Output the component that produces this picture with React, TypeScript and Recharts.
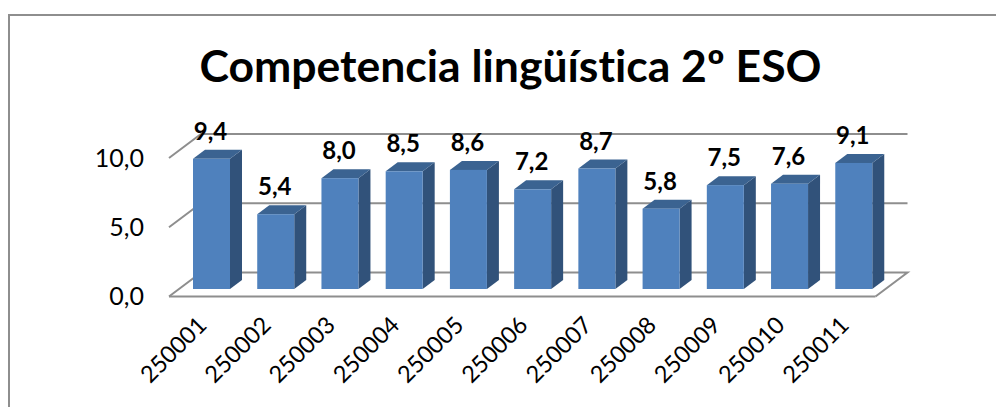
import { BarChart, Bar, XAxis, YAxis, CartesianGrid, LabelList } from "recharts";

const codes = ["250001", "250002", "250003", "250004", "250005", "250006", "250007", "250008", "250009", "250010", "250011"];
const scores = [9.4, 5.4, 8.0, 8.5, 8.6, 7.2, 8.7, 5.8, 7.5, 7.6, 9.1];
const yTicks = [0, 5, 10];

const rows = codes.map((code, i) => ({ code, score: scores[i] }));

const FONT = "Lato, sans-serif";
const GRID = "#8e8e8e";

// fake 3D: wall sits behind the floor, bars stand part way in
const WALL_DX = 32;
const WALL_DY = -24;
const BAR_DX = 10;
const BAR_DY = -7.5;
const DEPTH_X = 12;
const DEPTH_Y = -9;

const comma = (v: number) => v.toFixed(1).replace(".", ",");

function Bar3D({ x, y, width, height }: any) {
  const l = x + BAR_DX;
  const r = l + width;
  const t = y + BAR_DY;
  const b = t + height;
  return (
    <g>
      <path d={`M${r} ${t} L${r + DEPTH_X} ${t + DEPTH_Y} L${r + DEPTH_X} ${b + DEPTH_Y} L${r} ${b} Z`} fill="#31527a" />
      <path d={`M${l} ${t} L${l + DEPTH_X} ${t + DEPTH_Y} L${r + DEPTH_X} ${t + DEPTH_Y} L${r} ${t} Z`} fill="#3b6391" />
      <rect x={l} y={t} width={width} height={height} fill="#4f81bd" />
    </g>
  );
}

function GridLine({ x1, x2, y1, index }: any) {
  const floor = index === 0;
  return (
    <path
      d={
        `M${x1} ${y1} L${x1 + WALL_DX} ${y1 + WALL_DY} L${x2 + WALL_DX} ${y1 + WALL_DY}` +
        (floor ? ` L${x2} ${y1}` : "")
      }
      fill="none"
      stroke={GRID}
      strokeWidth={2}
    />
  );
}

function CodeTick({ x, y, payload }: any) {
  const px = x + 7;
  const py = y + 22;
  return (
    <text x={px} y={py} textAnchor="end" transform={`rotate(-45 ${px} ${py})`} fontFamily={FONT} fontSize={23.5} fill="#000">
      {payload.value}
    </text>
  );
}

function ScoreLabel({ x, y, width, value }: any) {
  return (
    <text
      x={x + BAR_DX + width / 2 - 1}
      y={y + BAR_DY - 19}
      textAnchor="middle"
      fontFamily={FONT}
      fontSize={24}
      fontWeight={700}
      fill="#000"
    >
      {comma(value)}
    </text>
  );
}

export default function App() {
  return (
    <div style={{ position: "absolute", left: 0, top: 0, width: 996, height: 407, background: "#fff", overflow: "hidden" }}>
      <div
        style={{
          position: "absolute",
          left: 8,
          top: 14,
          width: 1000,
          height: 400,
          border: "2px solid #8e8e8e",
          boxSizing: "border-box",
        }}
      />
      <div
        style={{
          position: "absolute",
          left: 0,
          width: 1021,
          top: 38,
          textAlign: "center",
          fontFamily: FONT,
          fontSize: 44.5,
          fontWeight: 700,
          color: "#000",
          whiteSpace: "nowrap",
          fontVariantLigatures: "none",
        }}
      >
        Competencia lingüística 2º ESO
      </div>
      <div style={{ position: "absolute", left: 0, top: 0 }}>
        <BarChart
          width={996}
          height={407}
          data={rows}
          barSize={37}
          margin={{ left: 109, right: 120.5, top: 158, bottom: 30.5 }}
        >
          <CartesianGrid vertical={false} horizontal={(p: any) => <GridLine key={p.index} {...p} />} />
          <XAxis
            dataKey="code"
            interval={0}
            height={80}
            tickLine={false}
            axisLine={{ stroke: GRID, strokeWidth: 2 }}
            tick={CodeTick}
          />
          <YAxis
            width={60}
            domain={[0, 10]}
            ticks={yTicks}
            tickLine={false}
            axisLine={false}
            tickMargin={19}
            tickFormatter={comma}
            tick={{ fontFamily: FONT, fontSize: 25, fill: "#000" }}
          />
          <Bar dataKey="score" isAnimationActive={false} shape={Bar3D}>
            <LabelList dataKey="score" content={ScoreLabel} />
          </Bar>
        </BarChart>
      </div>
    </div>
  );
}
